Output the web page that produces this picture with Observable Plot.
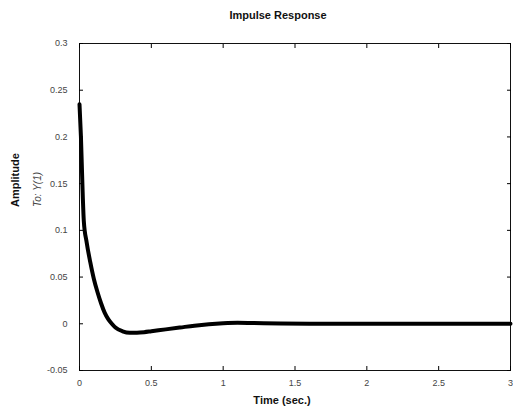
<!DOCTYPE html>
<html>
<head>
<meta charset="utf-8">
<script src="https://cdn.jsdelivr.net/npm/d3@7"></script>
<script src="https://cdn.jsdelivr.net/npm/@observablehq/plot@0.6"></script>
<style>
  body { margin: 0; background: #fff; width: 513px; height: 413px; overflow: hidden; font-family: "Liberation Sans", Arial, sans-serif; }
  #title { position: absolute; left: 0; top: 9px; width: 556px; text-align: center; font-weight: bold; font-size: 11px; color: #111; }
  #chart { position: absolute; left: 0; top: 30px; }
</style>
</head>
<body>
<div id="title">Impulse Response</div>
<div id="chart"></div>
<script>
const times = [0, 0.01, 0.02, 0.03, 0.05, 0.075, 0.1, 0.125, 0.15, 0.175, 0.2, 0.225, 0.25, 0.3, 0.35, 0.4, 0.45, 0.5, 0.6, 0.7, 0.8, 0.9, 1.0, 1.1, 1.2, 1.4, 1.6, 2.0, 2.5, 3.0];
const amplitude = [0.235, 0.2, 0.15, 0.11, 0.087, 0.066, 0.048, 0.034, 0.022, 0.012, 0.005, 0.0, -0.004, -0.008, -0.0095, -0.0095, -0.009, -0.008, -0.006, -0.004, -0.002, -0.0005, 0.0005, 0.001, 0.0008, 0.0002, 0, 0, 0, 0];
const xTicks = [0, 0.5, 1, 1.5, 2, 2.5, 3];
const yTicks = [-0.05, 0, 0.05, 0.1, 0.15, 0.2, 0.25, 0.3];
const xTickLabels = ["0", "0.5", "1", "1.5", "2", "2.5", "3"];
const yTickLabels = ["-0.05", "0", "0.05", "0.1", "0.15", "0.2", "0.25", "0.3"];

const data = times.map((t, i) => ({t, y: amplitude[i]}));

const plot = Plot.plot({
  width: 513,
  height: 383,
  marginLeft: 79,
  marginRight: 3,
  marginTop: 13,
  marginBottom: 43,
  style: {fontFamily: "Liberation Sans, Arial, sans-serif", fontSize: "9px", background: "#fff"},
  x: {domain: [0, 3]},
  y: {domain: [-0.05, 0.3]},
  marks: [
    Plot.frame({stroke: "#111", strokeWidth: 1}),
    Plot.axisX({anchor: "bottom", ticks: xTicks, tickSize: -4, tickPadding: 13, tickFormat: (d, i) => xTickLabels[i], fill: "#444", label: null}),
    Plot.axisX({anchor: "top", ticks: xTicks, tickSize: -4, tickFormat: () => "", label: null}),
    Plot.axisY({anchor: "left", ticks: yTicks, tickSize: -4, tickPadding: 16, tickFormat: (d, i) => yTickLabels[i], fill: "#444", label: null}),
    Plot.axisY({anchor: "right", ticks: yTicks, tickSize: -4, tickFormat: () => "", label: null}),
    Plot.lineY(data, {x: "t", y: "y", stroke: "#000", strokeWidth: 4, curve: "monotone-x"}),
    Plot.text(["Amplitude"], {frameAnchor: "left", rotate: -90, dx: -64, fontWeight: "bold", fontSize: 11, fill: "#111"}),
    Plot.text(["To: Y(1)"], {frameAnchor: "left", rotate: -90, dx: -42, fontStyle: "italic", fontSize: 10, fill: "#444"}),
    Plot.text(["Time (sec.)"], {frameAnchor: "bottom", dx: -13, dy: 33, fontWeight: "bold", fontSize: 11, fill: "#111"})
  ]
});
document.getElementById("chart").appendChild(plot);
</script>
</body>
</html>
